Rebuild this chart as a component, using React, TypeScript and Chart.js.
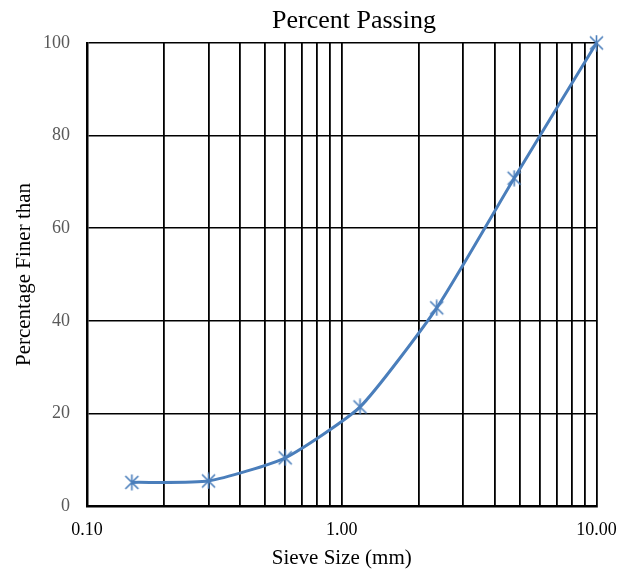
import React, { useEffect, useRef } from "react";
import { Chart, registerables } from "chart.js";

Chart.register(...registerables);

const chartTitle = "Percent Passing";
const xAxisTitle = "Sieve Size (mm)";
const yAxisTitle = "Percentage Finer than";

const sieveSizes = [0.15, 0.3, 0.6, 1.18, 2.36, 4.75, 10];
const percentPassing = [5.1, 5.4, 10.4, 21.4, 42.8, 70.8, 100];

const xGridValues = [0.1, 0.2, 0.3, 0.4, 0.5, 0.6, 0.7, 0.8, 0.9, 1, 2, 3, 4, 5, 6, 7, 8, 9, 10];
const xLabelValues = [0.1, 1, 10];
const yMin = 0;
const yMax = 100;
const yStep = 20;

const SERIF = "'Liberation Serif', 'Times New Roman', serif";
const BLUE = "#4A7EBB";

function makeMarker(): HTMLCanvasElement {
  const c = document.createElement("canvas");
  const s = 17;
  c.width = s;
  c.height = s;
  const g = c.getContext("2d")!;
  g.strokeStyle = BLUE;
  g.lineWidth = 1.6;
  g.beginPath();
  g.moveTo(2, 2);
  g.lineTo(s - 2, s - 2);
  g.moveTo(s - 2, 2);
  g.lineTo(2, s - 2);
  g.moveTo(s / 2, 0.5);
  g.lineTo(s / 2, s - 0.5);
  g.stroke();
  return c;
}

export default function App() {
  const ref = useRef<HTMLCanvasElement | null>(null);

  useEffect(() => {
    document.body.style.margin = "0";
    const canvas = ref.current!;
    const marker = makeMarker();

    const titlePlugin = {
      id: "customTitle",
      afterDraw(chart: any) {
        const ctx = chart.ctx;
        ctx.save();
        ctx.font = `26px ${SERIF}`;
        ctx.fillStyle = "#000000";
        ctx.textAlign = "center";
        ctx.textBaseline = "middle";
        ctx.fillText(chartTitle, 354, 21);
        ctx.restore();
      },
    };

    const chart = new Chart(canvas, {
      type: "line",
      data: {
        datasets: [
          {
            label: chartTitle,
            data: sieveSizes.map((x, i) => ({ x, y: percentPassing[i] })),
            borderColor: BLUE,
            backgroundColor: BLUE,
            borderWidth: 3,
            tension: 0.18,
            pointStyle: marker as any,
            pointRadius: 8,
            clip: false as any,
          },
        ],
      },
      plugins: [titlePlugin],
      options: {
        animation: false,
        responsive: false,
        devicePixelRatio: 1,
        layout: { padding: { left: 0, right: 33.5, top: 43, bottom: 0 } },
        plugins: {
          legend: { display: false },
          title: { display: false },
          tooltip: { enabled: false },
        },
        scales: {
          x: {
            type: "logarithmic",
            min: 0.1,
            max: 10,
            afterBuildTicks(scale: any) {
              scale.ticks = xGridValues.map((v) => ({ value: v }));
            },
            afterFit(scale: any) {
              scale.height = 65;
            },
            ticks: {
              autoSkip: false,
              maxRotation: 0,
              minRotation: 0,
              padding: 13,
              color: "#000000",
              font: { family: SERIF, size: 18 },
              callback: (v: any) =>
                xLabelValues.some((l) => Math.abs(l - Number(v)) < 1e-9) ? Number(v).toFixed(2) : "",
            },
            grid: { color: "#000000", lineWidth: 1.8, drawTicks: false },
            border: { color: "#000000", width: 2.5 },
            title: {
              display: true,
              text: xAxisTitle,
              color: "#000000",
              font: { family: SERIF, size: 21 },
              padding: { top: 0, bottom: 0 },
            },
          },
          y: {
            type: "linear",
            min: yMin,
            max: yMax,
            afterFit(scale: any) {
              scale.width = 87;
            },
            ticks: {
              stepSize: yStep,
              padding: 17,
              color: "#595959",
              font: { family: SERIF, size: 18 },
            },
            grid: { color: "#000000", lineWidth: 1.5, drawTicks: false },
            border: { color: "#000000", width: 2.5 },
            title: {
              display: true,
              text: yAxisTitle,
              color: "#000000",
              font: { family: SERIF, size: 21 },
              padding: { top: 12, bottom: 0 },
            },
          },
        },
      },
    });
    return () => chart.destroy();
  }, []);

  return (
    <div style={{ width: 630, height: 571 }}>
      <canvas ref={ref} width={630} height={571} style={{ display: "block" }} />
    </div>
  );
}
